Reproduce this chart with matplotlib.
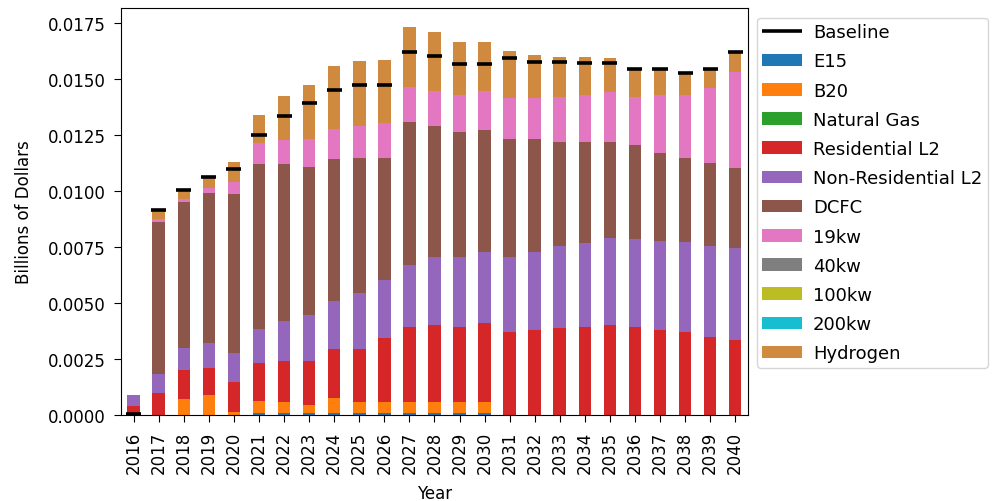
import matplotlib
matplotlib.use("Agg")
import matplotlib.pyplot as plt
import numpy as np
import pandas as pd

years = [str(y) for y in range(2016, 2041)]

e15 = [0, 0, 0, 0, 0,
       0.00009, 0.00009, 0.00009, 0.00009, 0.00009,
       0.00009, 0.00009, 0.00009, 0.00009, 0.00009,
       0, 0, 0, 0, 0, 0, 0, 0, 0, 0]
b20 = [0, 0, 0.00074, 0.00092, 0.00012,
       0.00055, 0.00048, 0.00036, 0.00068, 0.00051,
       0.00051, 0.00051, 0.00051, 0.00051, 0.00051,
       0, 0, 0, 0, 0, 0, 0, 0, 0, 0]
natural_gas = [0] * 25
residential_l2 = [0.00040, 0.00101, 0.00128, 0.00119, 0.00138,
                  0.00171, 0.00186, 0.00198, 0.00217, 0.00235,
                  0.00283, 0.00335, 0.00342, 0.00335, 0.00351,
                  0.00369, 0.00379, 0.00387, 0.00394, 0.00402,
                  0.00394, 0.00379, 0.00369, 0.00351, 0.00336]
non_residential_l2 = [0.00048, 0.00082, 0.00098, 0.00109, 0.00126,
                      0.00149, 0.00179, 0.00204, 0.00216, 0.00250,
                      0.00262, 0.00277, 0.00305, 0.00312, 0.00318,
                      0.00338, 0.00350, 0.00366, 0.00376, 0.00387,
                      0.00394, 0.00399, 0.00402, 0.00402, 0.00409]
dcfc = [0, 0.00680, 0.00653, 0.00670, 0.00710,
        0.00737, 0.00701, 0.00659, 0.00635, 0.00601,
        0.00542, 0.00635, 0.00585, 0.00555, 0.00545,
        0.00525, 0.00503, 0.00467, 0.00449, 0.00432,
        0.00417, 0.00394, 0.00376, 0.00371, 0.00360]
kw19 = [0, 0.00012, 0.00010, 0.00022, 0.00055,
        0.00094, 0.00103, 0.00126, 0.00134, 0.00146,
        0.00158, 0.00159, 0.00155, 0.00168, 0.00173,
        0.00185, 0.00185, 0.00202, 0.00210, 0.00220,
        0.00217, 0.00257, 0.00283, 0.00335, 0.00427]
kw40 = [0] * 25
kw100 = [0] * 25
kw200 = [0] * 25
hydrogen = [0, 0.00040, 0.00042, 0.00057, 0.00089,
            0.00126, 0.00198, 0.00241, 0.00280, 0.00290,
            0.00278, 0.00268, 0.00262, 0.00237, 0.00220,
            0.00210, 0.00192, 0.00177, 0.00170, 0.00152,
            0.00129, 0.00122, 0.00103, 0.00086, 0.00086]
baseline = [0.00005, 0.00914, 0.01006, 0.01065, 0.01098,
            0.01250, 0.01333, 0.01391, 0.01451, 0.01475,
            0.01475, 0.01619, 0.01601, 0.01567, 0.01567,
            0.01592, 0.01577, 0.01577, 0.01570, 0.01570,
            0.01543, 0.01543, 0.01527, 0.01543, 0.01619]

df = pd.DataFrame({
    "E15": e15,
    "B20": b20,
    "Natural Gas": natural_gas,
    "Residential L2": residential_l2,
    "Non-Residential L2": non_residential_l2,
    "DCFC": dcfc,
    "19kw": kw19,
    "40kw": kw40,
    "100kw": kw100,
    "200kw": kw200,
    "Hydrogen": hydrogen,
}, index=years)

colors = ["tab:blue", "tab:orange", "tab:green", "tab:red", "tab:purple",
          "tab:brown", "tab:pink", "tab:gray", "tab:olive", "tab:cyan", "#d08a40"]

fig = plt.figure(figsize=(9.93, 5.02), dpi=100)
ax = fig.add_axes([0.122, 0.171, 0.631, 0.811])
ax.set_axisbelow(True)
ax.grid(True, color="#c0c0c0", linewidth=1)

df.plot(kind="bar", stacked=True, ax=ax, color=colors, width=0.5, legend=False)

# baseline as short black dashes over each bar
x = np.arange(len(years))
ax.hlines(baseline, x - 0.3, x + 0.3, color="black", linewidth=2.6, label="Baseline")

ax.set_ylim(0, 0.01817)
ax.set_yticks(np.arange(0, 0.0176, 0.0025))
ax.yaxis.set_major_formatter(matplotlib.ticker.FormatStrFormatter("%.4f"))
ax.tick_params(labelsize=12, length=5, pad=6)
ax.set_xlabel("Year", fontsize=12, labelpad=8)
ax.set_ylabel("Billions of Dollars", fontsize=12, labelpad=11)
for s in ax.spines.values():
    s.set_color("black")

handles, labels = ax.get_legend_handles_labels()
order = [labels.index("Baseline")] + [i for i, l in enumerate(labels) if l != "Baseline"]
ax.legend([handles[i] for i in order], [labels[i] for i in order],
          loc="upper left", bbox_to_anchor=(1.0148, 0.976), fontsize=13,
          labelspacing=0.62, handlelength=2.2, handletextpad=0.6,
          borderpad=0.3, borderaxespad=0)

fig.savefig("out.png", dpi=100)
